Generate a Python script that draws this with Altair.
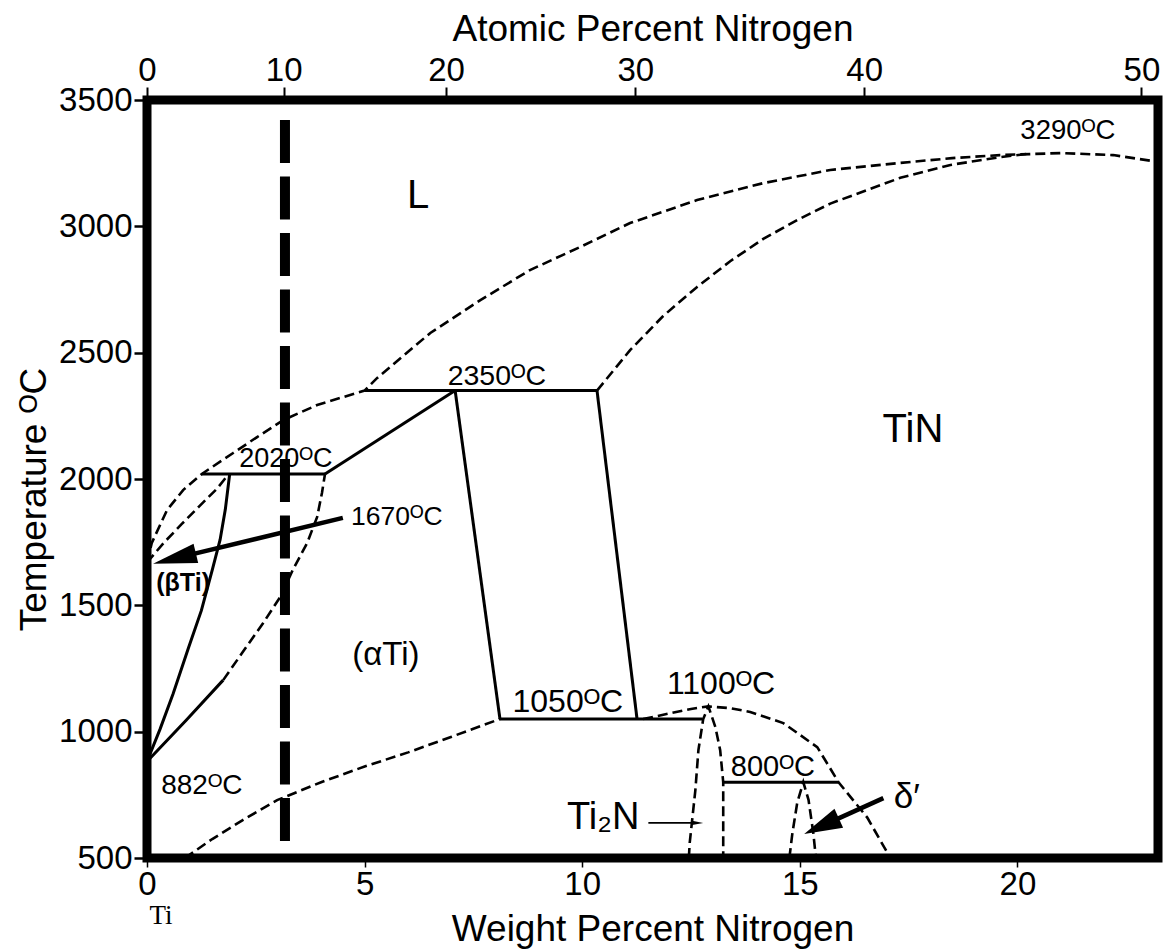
import math
import altair as alt
import pandas as pd

# ---------------- frame ----------------
X_MAX = 23.23
T_MIN, T_MAX = 500, 3500
W, H = 1011, 758
PX_X = W / X_MAX
PX_Y = H / (T_MAX - T_MIN)
FONT = "Liberation Sans"
SUP_O = "\u1D3C"

# ---------------- axes ----------------
wt_ticks = [0, 5, 10, 15, 20]
T_ticks = [500, 1000, 1500, 2000, 2500, 3000, 3500]
at_pct_labels = ["0", "10", "20", "30", "40", "50"]
at_pct_wt_pos = [0, 3.14, 6.87, 11.22, 16.48, 22.85]

# ---------------- phase boundaries (dashed) ----------------
liq_wt = [0, 0.11, 0.46, 0.83, 1.26, 1.98, 2.53, 3.13, 3.91, 5.0, 5.29, 6.51, 7.66, 8.80,
          9.95, 11.10, 12.64, 14.16, 15.70, 17.31, 18.5, 19.6, 21.0, 22.2, 23.2]
liq_T = [1670, 1747, 1877, 1956, 2020, 2103, 2166, 2233, 2293, 2350, 2400, 2578, 2708, 2827,
         2918, 3013, 3104, 3171, 3223, 3251, 3270, 3282, 3290, 3282, 3256]

tin_liq_wt = [10.34, 11.10, 11.86, 12.64, 13.40, 14.16, 14.94, 15.70, 17.31, 18.46, 19.61, 20.3]
tin_liq_T = [2350, 2510, 2645, 2760, 2862, 2950, 3025, 3090, 3192, 3243, 3274, 3288]

beta_sol_wt = [0, 0.4, 0.8, 1.2, 1.6, 1.88]
beta_sol_T = [1670, 1750, 1822, 1892, 1960, 2020]

alpha_up_wt = [1.75, 2.2, 2.67, 3.06, 3.35, 3.68, 3.91, 4.02, 4.09]
alpha_up_T = [1204, 1315, 1430, 1533, 1640, 1747, 1850, 1945, 2020]

alpha_solvus_wt = [0.87, 1.5, 2.2, 2.99, 4.0, 5.0, 6.0, 7.0, 8.11]
alpha_solvus_T = [500, 575, 650, 729, 800, 862, 918, 980, 1050]

dome_wt = [11.4, 12.0, 12.5, 12.9, 13.4, 13.86, 14.62, 15.40, 15.89, 16.55, 17.08]
dome_T = [1050, 1072, 1090, 1100, 1093, 1078, 1034, 939, 800, 660, 500]

ti2n_wt = [12.45, 12.47, 12.52, 12.6, 12.67, 12.78, 12.9, 13.06, 13.17, 13.24, 13.24]
ti2n_T = [500, 560, 640, 769, 927, 1050, 1100, 1018, 927, 800, 500]

delta_wt = [14.76, 14.83, 14.94, 15.08, 15.2, 15.31, 15.37]
delta_T = [500, 599, 718, 800, 730, 599, 500]

# ---------------- phase boundaries (solid) ----------------
iso2020_wt, iso2020_T = [1.26, 4.09], [2020, 2020]
ridge_wt, ridge_T = [4.09, 7.08], [2020, 2350]
iso2350_wt, iso2350_T = [5.0, 10.34], [2350, 2350]
alpha_tin_wt, alpha_tin_T = [7.08, 8.11], [2350, 1050]
tin_left_wt, tin_left_T = [10.34, 11.26], [2350, 1050]
iso1050_wt, iso1050_T = [8.11, 12.76], [1050, 1050]
iso800_wt, iso800_T = [13.24, 15.89], [800, 800]
beta_tr_wt = [0, 0.3, 0.6, 0.95, 1.25, 1.5, 1.68, 1.8, 1.9]
beta_tr_T = [882, 1010, 1150, 1330, 1480, 1640, 1760, 1880, 2020]
alpha_low_wt, alpha_low_T = [0, 0.9, 1.75], [882, 1045, 1204]

# ---------------- 10 at.% guide line ----------------
guide_wt = [3.17, 3.17]
guide_T = [3421, 559]

# ---------------- arrows ----------------
arrow_names = ["a1670", "adelta", "ati2n"]
arrow_tail_wt = [4.5, 16.92, 11.52]
arrow_tail_T = [1846, 737, 639]
arrow_tip_wt = [0.14, 15.1, 12.78]
arrow_tip_T = [1665, 595, 639]
arrow_head_len = [44, 38, 11]
arrow_head_halfw = [0.45, 0.55, 0.4]
arrow_width = [4.5, 4.5, 1.6]

# ---------------- labels ----------------
label_text = ["L", "TiN", "(\u03b1Ti)", "2020" + SUP_O + "C", "2350" + SUP_O + "C",
              "1670" + SUP_O + "C", "882" + SUP_O + "C", "1050" + SUP_O + "C",
              "1100" + SUP_O + "C", "800" + SUP_O + "C", "3290" + SUP_O + "C",
              "Ti\u2082N", "\u03b4\u2032"]
label_wt = [6.23, 17.6, 5.49, 3.19, 8.04, 5.74, 1.26, 9.67, 13.19, 14.38, 21.16, 10.48, 17.46]
label_T = [3120, 2194, 1303, 2079, 2408, 1849, 785, 1117, 1189, 860, 3377, 660, 741]
label_size = [40, 40, 33, 27, 28.5, 26.5, 28, 32, 32, 29, 27.5, 38, 35]

bold_text, bold_wt, bold_T = ["(\u03b2Ti)"], [0.83], [1588]
serif_text, serif_wt, serif_T = ["Ti"], [0.32], [270]


def curves_df(curves):
    rows = []
    for name, xs, ys in curves:
        for i, (x, y) in enumerate(zip(xs, ys)):
            rows.append({"curve": name, "i": i, "wt": x, "T": y})
    return pd.DataFrame(rows)


dashed_df = curves_df([
    ("liq", liq_wt, liq_T), ("tinliq", tin_liq_wt, tin_liq_T),
    ("bsol", beta_sol_wt, beta_sol_T), ("aup", alpha_up_wt, alpha_up_T),
    ("asolv", alpha_solvus_wt, alpha_solvus_T), ("dome", dome_wt, dome_T),
    ("ti2n", ti2n_wt, ti2n_T), ("delta", delta_wt, delta_T),
])
solid_df = curves_df([
    ("i2020", iso2020_wt, iso2020_T), ("ridge", ridge_wt, ridge_T),
    ("i2350", iso2350_wt, iso2350_T), ("atin", alpha_tin_wt, alpha_tin_T),
    ("tinl", tin_left_wt, tin_left_T), ("i1050", iso1050_wt, iso1050_T),
    ("i800", iso800_wt, iso800_T), ("btr", beta_tr_wt, beta_tr_T),
    ("alow", alpha_low_wt, alpha_low_T),
])
guide_df = curves_df([("guide", guide_wt, guide_T)])

# arrow shafts and heads
shaft_rows, head_rows = [], []
for n, tx, tT, px, pT, L, hw, sw in zip(arrow_names, arrow_tail_wt, arrow_tail_T,
                                         arrow_tip_wt, arrow_tip_T, arrow_head_len,
                                         arrow_head_halfw, arrow_width):
    dx = (px - tx) * PX_X
    dy = -(pT - tT) * PX_Y
    d = math.hypot(dx, dy)
    ux, uy = dx / d, dy / d
    ang = math.degrees(math.atan2(dy, dx)) % 360
    cx = px - ux * L / 2 / PX_X
    cT = pT + uy * L / 2 / PX_Y
    bx = px - ux * L * 0.85 / PX_X
    bT = pT + uy * L * 0.85 / PX_Y
    shaft_rows += [{"curve": n, "i": 0, "wt": tx, "T": tT, "w": sw},
                   {"curve": n, "i": 1, "wt": bx, "T": bT, "w": sw}]
    head_rows.append({"wt": cx, "T": cT, "angle": ang, "size": L * L,
                      "shape": f"M 1 0 L -1 {-hw} L -1 {hw} Z"})
shaft_df = pd.DataFrame(shaft_rows)
head_df = pd.DataFrame(head_rows)

labels_df = pd.DataFrame({"text": label_text, "wt": label_wt, "T": label_T, "size": label_size})
bold_df = pd.DataFrame({"text": bold_text, "wt": bold_wt, "T": bold_T})
serif_df = pd.DataFrame({"text": serif_text, "wt": serif_wt, "T": serif_T})
top_df = pd.DataFrame({"wt": at_pct_wt_pos})

xscale = alt.Scale(domain=[0, X_MAX], nice=False, zero=False)
yscale = alt.Scale(domain=[T_MIN, T_MAX], nice=False, zero=False)

y_axis = alt.Axis(values=T_ticks, format="d", title="Temperature " + SUP_O + "C", grid=False,
                  domain=False, tickSize=13, tickWidth=2.5, tickColor="black", labelFontSize=33,
                  labelFont=FONT, labelColor="black", labelPadding=2, labelOverlap=False,
                  titleFont=FONT, titleFontSize=37, titleFontWeight="normal", titleColor="black",
                  titleX=-113, titleBaseline="middle", titleY=H / 2 + 20)

bottom_axis = alt.Axis(values=wt_ticks, title="Weight Percent Nitrogen", grid=False, domain=False,
                       orient="bottom", tickSize=9, tickWidth=1.5, tickColor="black",
                       labelFontSize=33, labelFont=FONT, labelColor="black", labelPadding=1,
                       labelFlush=False, labelOverlap=False, format="d",
                       titleFont=FONT, titleFontSize=37, titleFontWeight="normal",
                       titleColor="black", titlePadding=10)

expr = ""
for i, (pos, lab) in enumerate(zip(at_pct_wt_pos, at_pct_labels)):
    if i < len(at_pct_wt_pos) - 1:
        mid = (pos + at_pct_wt_pos[i + 1]) / 2
        expr += f"datum.value < {mid} ? '{lab}' : "
    else:
        expr += f"'{lab}'"

top_axis = alt.Axis(values=at_pct_wt_pos, labelExpr=expr, title="Atomic Percent Nitrogen",
                    grid=False, domain=False, orient="top", tickSize=13, tickWidth=2,
                    tickColor="black", labelFontSize=33, labelFont=FONT, labelColor="black",
                    labelPadding=0, labelFlush=False, labelOverlap=False,
                    titleFont=FONT, titleFontSize=37, titleFontWeight="normal",
                    titleColor="black", titlePadding=6)


def X(axis=None):
    return alt.X("wt:Q", scale=xscale, axis=axis)


def Y():
    return alt.Y("T:Q", scale=yscale, axis=y_axis)


solid = alt.Chart(solid_df).mark_line(color="black", strokeWidth=3).encode(
    x=X(bottom_axis), y=Y(), detail="curve:N", order="i:Q")

dashed = alt.Chart(dashed_df).mark_line(color="black", strokeWidth=2.6, strokeDash=[10, 5]).encode(
    x=X(), y=Y(), detail="curve:N", order="i:Q")

guide = alt.Chart(guide_df).mark_line(color="black", strokeWidth=10, strokeDash=[43, 13.5],
                                      strokeCap="butt").encode(
    x=X(), y=Y(), detail="curve:N", order="i:Q")

shafts = alt.Chart(shaft_df).mark_line(color="black").encode(
    x=X(), y=Y(), detail="curve:N", order="i:Q",
    strokeWidth=alt.StrokeWidth("w:Q", scale=None))

heads = alt.Chart(head_df).mark_point(filled=True, color="black", opacity=1, strokeWidth=0).encode(
    x=X(), y=Y(),
    angle=alt.Angle("angle:Q", scale=None),
    size=alt.Size("size:Q", scale=None),
    shape=alt.Shape("shape:N", scale=None))

texts = alt.Chart(labels_df).mark_text(font=FONT, color="black", align="center",
                                       baseline="middle").encode(
    x=X(), y=Y(), text="text:N", size=alt.Size("size:Q", scale=None))

bold = alt.Chart(bold_df).mark_text(font=FONT, fontWeight="bold", fontSize=25, color="black",
                                    align="center", baseline="middle").encode(
    x=X(), y=Y(), text="text:N")

serif = alt.Chart(serif_df).mark_text(font="Liberation Serif", fontSize=27, color="black",
                                      align="center", baseline="middle").encode(
    x=X(), y=Y(), text="text:N")

top = alt.Chart(top_df).mark_point(opacity=0).encode(
    x=X(top_axis), y=alt.value(0))

chart = alt.layer(guide, dashed, solid, shafts, heads, texts, bold, serif, top).resolve_axis(
    x="independent"
).properties(
    width=W, height=H,
    padding={"left": 147, "top": 100, "right": 13, "bottom": 93},
    autosize=alt.AutoSizeParams(type="none"),
    background="white",
).configure_view(stroke="black", strokeWidth=9)

chart.save("out.html", embed_options={"renderer": "svg", "actions": False})
